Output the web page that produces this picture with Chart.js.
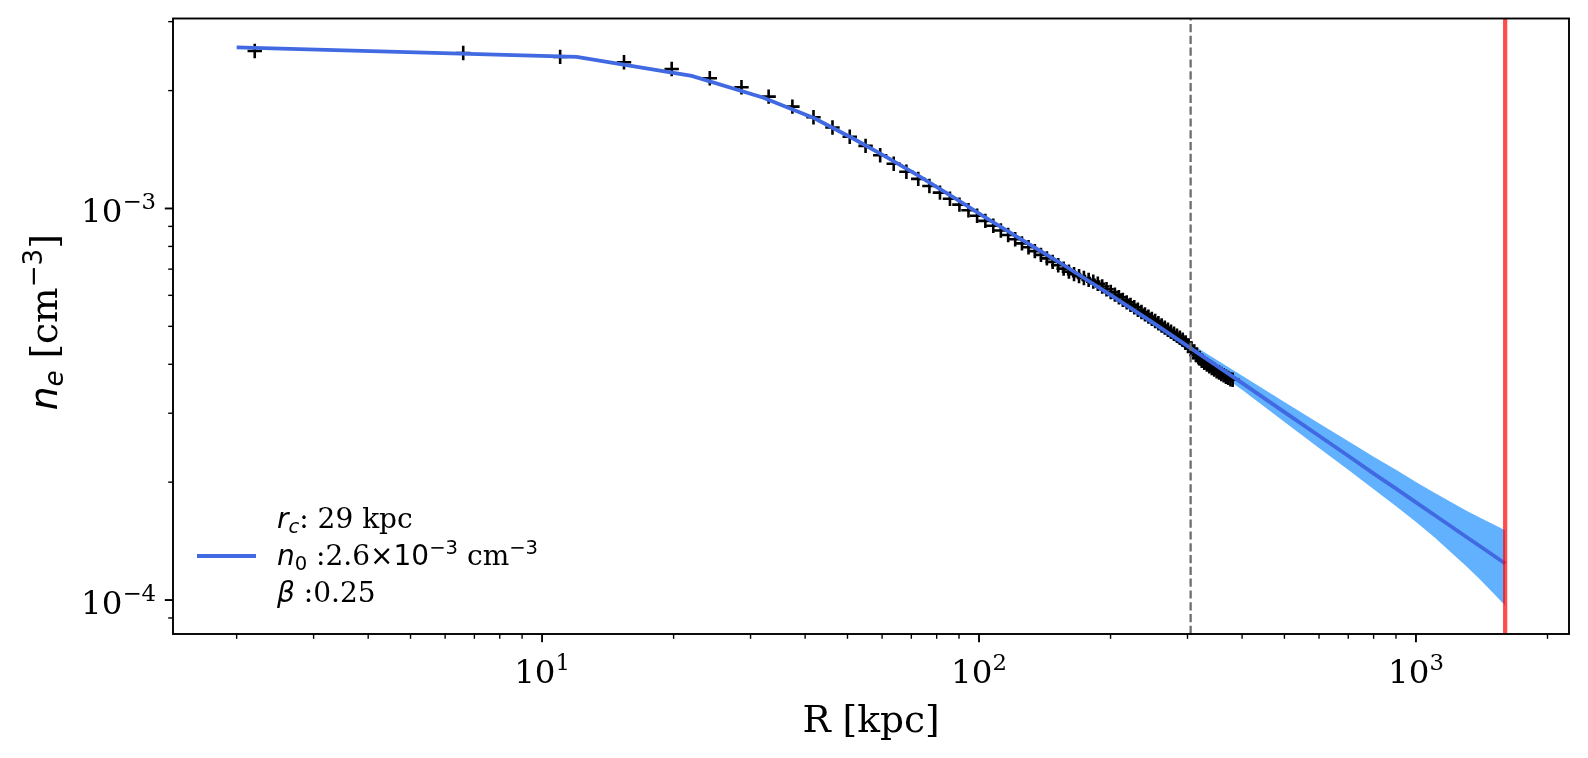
<!DOCTYPE html>
<html>
<head>
<meta charset="utf-8">
<title>n_e profile</title>
<script src="https://cdn.jsdelivr.net/npm/chart.js@4"></script>
<style>
  html, body { margin: 0; padding: 0; background: #fff; }
  #myChart { display: block; }
</style>
</head>
<body>
<canvas id="myChart" width="1588" height="758" style="width:1588px;height:758px"></canvas>
<script>
// measured profile (binned), R in kpc
var R_DATA = [
  2.2, 6.6, 11.0, 15.4, 19.8, 24.2, 28.6, 33.0, 37.4, 41.8,
  46.2, 50.6, 55.0, 59.4, 63.8, 68.2, 72.6, 77.0, 81.4, 85.8,
  90.2, 94.6, 99.0, 103.4, 107.8, 112.2, 116.6, 121.0, 125.4, 129.8,
  134.2, 138.6, 143.0, 147.4, 151.8, 156.2, 160.6, 165.0, 169.4, 173.8,
  178.2, 182.6, 187.0, 191.4, 195.8, 200.2, 204.6, 209.0, 213.4, 217.8,
  222.2, 226.6, 231.0, 235.4, 239.8, 244.2, 248.6, 253.0, 257.4, 261.8,
  266.2, 270.6, 275.0, 279.4, 283.8, 288.2, 292.6, 297.0, 301.4, 305.8,
  310.2, 314.6, 319.0, 323.4, 327.8, 332.2, 336.6, 341.0, 345.4, 349.8,
  354.2, 358.6, 363.0, 367.4, 371.8, 376.2, 380.6
];
var NE_DATA = [
  2.525e-3, 2.495e-3, 2.438e-3, 2.362e-3, 2.270e-3, 2.151e-3, 2.040e-3, 1.930e-3, 1.820e-3, 1.710e-3,
  1.610e-3, 1.525e-3, 1.445e-3, 1.367e-3, 1.301e-3, 1.241e-3, 1.190e-3, 1.1408e-3, 1.0977e-3, 1.0585e-3,
  1.0226e-3, 9.892e-4, 9.583e-4, 9.296e-4, 9.034e-4, 8.788e-4, 8.558e-4, 8.344e-4, 8.144e-4, 7.959e-4,
  7.781e-4, 7.614e-4, 7.458e-4, 7.307e-4, 7.163e-4, 7.020e-4, 6.898e-4, 6.799e-4, 6.718e-4, 6.644e-4,
  6.571e-4, 6.503e-4, 6.424e-4, 6.318e-4, 6.217e-4, 6.119e-4, 6.026e-4, 5.933e-4, 5.843e-4, 5.756e-4,
  5.674e-4, 5.592e-4, 5.514e-4, 5.438e-4, 5.366e-4, 5.295e-4, 5.226e-4, 5.159e-4, 5.092e-4, 5.026e-4,
  4.964e-4, 4.903e-4, 4.843e-4, 4.786e-4, 4.729e-4, 4.675e-4, 4.621e-4, 4.548e-4, 4.468e-4, 4.388e-4,
  4.301e-4, 4.217e-4, 4.145e-4, 4.083e-4, 4.033e-4, 3.992e-4, 3.953e-4, 3.914e-4, 3.876e-4, 3.839e-4,
  3.812e-4, 3.778e-4, 3.752e-4, 3.718e-4, 3.693e-4, 3.661e-4, 3.653e-4
];

// beta-model fit and its band
var R_MODEL = [2, 12, 22, 32, 42, 52, 62, 72, 82, 92, 102, 122, 152, 202, 252, 302, 402, 502, 602, 702,
  802, 902, 1002, 1102, 1202, 1302, 1402, 1502, 1600];
var NE_MODEL = [
  2.58e-3, 2.44e-3, 2.18e-3, 1.92e-3, 1.70e-3, 1.50e-3, 1.345e-3, 1.220e-3, 1.115e-3, 1.030e-3,
  9.58e-4, 8.47e-4, 7.31e-4, 5.97e-4, 5.08e-4, 4.43e-4, 3.57e-4, 3.01e-4, 2.62e-4, 2.329e-4,
  2.10e-4, 1.922e-4, 1.773e-4, 1.649e-4, 1.543e-4, 1.451e-4, 1.372e-4, 1.301e-4, 1.240e-4
];
var NE_UPPER = [
  2.586e-3, 2.446e-3, 2.185e-3, 1.924e-3, 1.704e-3, 1.503e-3, 1.348e-3, 1.223e-3, 1.118e-3, 1.035e-3,
  9.62e-4, 8.53e-4, 7.38e-4, 6.05e-4, 5.19e-4, 4.55e-4, 3.73e-4, 3.196e-4, 2.820e-4, 2.542e-4,
  2.319e-4, 2.147e-4, 1.999e-4, 1.880e-4, 1.780e-4, 1.693e-4, 1.623e-4, 1.561e-4, 1.508e-4
];
var NE_LOWER = [
  2.574e-3, 2.434e-3, 2.175e-3, 1.916e-3, 1.696e-3, 1.497e-3, 1.342e-3, 1.217e-3, 1.112e-3, 1.025e-3,
  9.54e-4, 8.41e-4, 7.24e-4, 5.89e-4, 4.98e-4, 4.31e-4, 3.43e-4, 2.841e-4, 2.439e-4, 2.144e-4,
  1.915e-4, 1.733e-4, 1.580e-4, 1.446e-4, 1.325e-4, 1.221e-4, 1.128e-4, 1.043e-4, 9.69e-5
];

var R_CUT = 305;    // dashed line
var R_EDGE = 1600;  // red line

var X_MIN = 1.43, X_MAX = 2240;
var Y_MIN = 8.19e-5, Y_MAX = 3.056e-3;
var X_MAJOR = [10, 100, 1000];
var X_MAJOR_LABELS = ['1', '2', '3'];
var X_MINOR = [2, 3, 4, 5, 6, 7, 8, 9, 20, 30, 40, 50, 60, 70, 80, 90, 200, 300, 400, 500, 600, 700, 800, 900, 2000];
var Y_MAJOR = [1e-4, 1e-3];
var Y_MAJOR_LABELS = ['\u22124', '\u22123'];
var Y_MINOR = [9e-5, 2e-4, 3e-4, 4e-4, 5e-4, 6e-4, 7e-4, 8e-4, 9e-4, 2e-3, 3e-3];

var LEGEND_LINES = [
  [['r', 'i'], ['c', 'is'], [': 29 kpc', 's']],
  [['n', 'i'], ['0', 'ss'], [' :2.6', 's'], ['\u00d710', 'm'], ['\u22123', 'msup'], [' cm', 's'], ['\u22123', 'msup']],
  [['\u03b2', 'i'], [' :0.25', 's']]
];

function pts(xs, ys) {
  return xs.map(function (v, i) { return {x: v, y: ys[i]}; });
}

function drawRuns(ctx, parts, x, y, align) {
  var w = 0;
  parts.forEach(function (p) { ctx.font = p.font; p.w = ctx.measureText(p.t).width; w += p.w; });
  var cx = align === 'center' ? x - w / 2 : (align === 'right' ? x - w : x);
  parts.forEach(function (p) {
    ctx.font = p.font;
    ctx.fillText(p.t, cx, y + (p.dy || 0));
    cx += p.w;
  });
}

var SERIF = "'DejaVu Serif', serif";
var SANS = "'DejaVu Sans', sans-serif";

var decor = {
  id: 'decor',
  afterDraw: function (chart) {
    var c = chart.ctx, a = chart.chartArea, xs = chart.scales.x, ys = chart.scales.y;
    c.save();
    c.strokeStyle = '#000';
    c.fillStyle = '#000';
    c.lineCap = 'butt';

    function seg(x1, y1, x2, y2, w) {
      c.lineWidth = w;
      c.beginPath(); c.moveTo(x1, y1); c.lineTo(x2, y2); c.stroke();
    }

    // ticks
    X_MAJOR.forEach(function (v) { var p = xs.getPixelForValue(v); seg(p, a.bottom, p, a.bottom + 8.2, 1.9); });
    X_MINOR.forEach(function (v) { var p = xs.getPixelForValue(v); seg(p, a.bottom, p, a.bottom + 4.8, 1.4); });
    Y_MAJOR.forEach(function (v) { var p = ys.getPixelForValue(v); seg(a.left, p, a.left - 8.2, p, 1.9); });
    Y_MINOR.forEach(function (v) { var p = ys.getPixelForValue(v); seg(a.left, p, a.left - 4.8, p, 1.4); });

    // frame
    c.lineWidth = 1.9;
    c.strokeRect(a.left, a.top, a.right - a.left, a.bottom - a.top);

    // tick labels
    c.textBaseline = 'alphabetic';
    c.textAlign = 'left';
    X_MAJOR.forEach(function (v, i) {
      var p = xs.getPixelForValue(v);
      drawRuns(c, [{t: '10', font: '32.5px ' + SERIF}, {t: X_MAJOR_LABELS[i], font: '22.8px ' + SERIF, dy: -13}], p, 683, 'center');
    });
    Y_MAJOR.forEach(function (v, i) {
      var p = ys.getPixelForValue(v);
      drawRuns(c, [{t: '10', font: '32.5px ' + SERIF}, {t: Y_MAJOR_LABELS[i], font: '22.8px ' + SERIF, dy: -13}], 156, p + 14, 'right');
    });

    // axis titles
    drawRuns(c, [{t: 'R [kpc]', font: '37.5px ' + SERIF}], (a.left + a.right) / 2, 732, 'center');
    c.save();
    c.translate(57, (a.top + a.bottom) / 2 - 4);
    c.rotate(-Math.PI / 2);
    drawRuns(c, [
      {t: 'n', font: 'italic 37.5px ' + SANS},
      {t: 'e', font: 'italic 26.2px ' + SANS, dy: 6},
      {t: ' [cm', font: '37.5px ' + SERIF},
      {t: '\u22123', font: '26.2px ' + SANS, dy: -15},
      {t: ']', font: '37.5px ' + SERIF}
    ], 0, 0, 'center');
    c.restore();

    // legend
    c.strokeStyle = 'royalblue';
    seg(197, 556, 256, 556, 3.8);
    var fonts = {
      i: {font: 'italic 28px ' + SANS, dy: 0},
      is: {font: 'italic 19.6px ' + SANS, dy: 5},
      ss: {font: '19.6px ' + SANS, dy: 5},
      s: {font: '28px ' + SERIF, dy: 0},
      m: {font: '28px ' + SANS, dy: 0},
      msup: {font: '19.6px ' + SANS, dy: -11.5}
    };
    var base = [528, 565, 602];
    LEGEND_LINES.forEach(function (line, k) {
      drawRuns(c, line.map(function (r) { return {t: r[0], font: fonts[r[1]].font, dy: fonts[r[1]].dy}; }), 277, base[k], 'left');
    });
    c.restore();
  }
};

var ctx = document.getElementById('myChart').getContext('2d');
var myChart = new Chart(ctx, {
  type: 'line',
  data: {
    datasets: [{
      label: 'edge',
      data: [{x: R_EDGE, y: Y_MIN}, {x: R_EDGE, y: Y_MAX}],
      borderColor: 'rgba(255, 0, 0, 0.7)',
      borderWidth: 4.2,
      pointRadius: 0,
      order: 0
    }, {
      label: 'cut',
      data: [{x: R_CUT, y: Y_MIN}, {x: R_CUT, y: Y_MAX}],
      borderColor: '#6e6e6e',
      borderWidth: 2.3,
      borderDash: [8.2, 3.6],
      pointRadius: 0,
      order: 1
    }, {
      label: 'model',
      data: pts(R_MODEL, NE_MODEL),
      borderColor: 'royalblue',
      borderWidth: 3.8,
      pointRadius: 0,
      tension: 0,
      order: 2
    }, {
      label: 'data',
      data: pts(R_DATA, NE_DATA),
      showLine: false,
      pointStyle: 'cross',
      pointRadius: 7.2,
      pointBorderWidth: 2.6,
      pointBorderColor: '#000',
      pointBackgroundColor: '#000',
      order: 3
    }, {
      label: 'upper',
      data: pts(R_MODEL, NE_UPPER),
      borderWidth: 0,
      borderColor: 'rgba(0,0,0,0)',
      backgroundColor: 'rgba(30, 144, 255, 0.7)',
      pointRadius: 0,
      fill: '+1',
      order: 4
    }, {
      label: 'lower',
      data: pts(R_MODEL, NE_LOWER),
      borderWidth: 0,
      borderColor: 'rgba(0,0,0,0)',
      pointRadius: 0,
      fill: false,
      order: 5
    }]
  },
  options: {
    responsive: false,
    animation: false,
    layout: { padding: { left: 173, right: 19, top: 18.5, bottom: 124 } },
    plugins: { legend: { display: false }, tooltip: { enabled: false } },
    scales: {
      x: { type: 'logarithmic', min: X_MIN, max: X_MAX, display: false },
      y: { type: 'logarithmic', min: Y_MIN, max: Y_MAX, display: false }
    }
  },
  plugins: [decor]
});
</script>
</body>
</html>
